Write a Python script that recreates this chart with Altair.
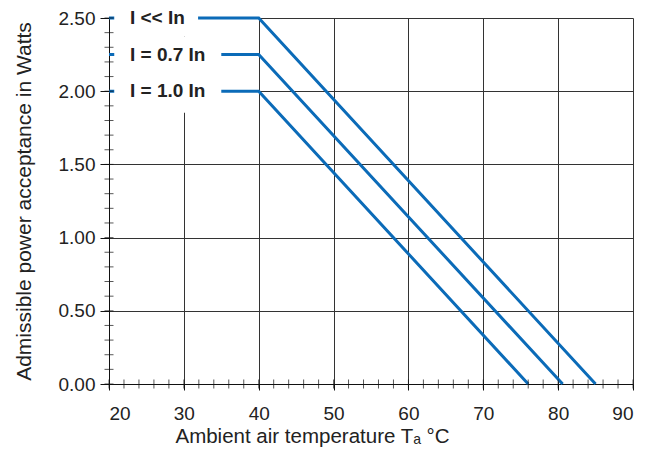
import altair as alt
import pandas as pd

# ---- data ----
series = ["I << In", "I = 0.7 In", "I = 1.0 In"]
plateau = [2.5, 2.25, 2.0]          # W, constant up to 40 °C
knee_t = [40, 40, 40]               # °C where derating begins
end_t = [85.0, 80.6, 76.0]          # °C where admissible power reaches 0
start_t = [20, 20, 20]
label_t = [22.8, 22.8, 22.8]        # label start (°C)
box_end_t = [31.9, 35.0, 35.0]      # white box behind label ends here
box_lo = [2.375, 2.125, 1.853]
box_hi = [2.56, 2.375, 2.125]
box_start_t = 20.7

x_major = [20, 30, 40, 50, 60, 70, 80, 90]
x_minor = list(range(20, 91, 2))
y_major = [0.0, 0.5, 1.0, 1.5, 2.0, 2.5]
y_minor = [round(i * 0.1, 1) for i in range(0, 26)]

blue = "#0b6bb8"
ink = "#222222"
font = "Liberation Sans"

rows = []
for s, p, k, e, st in zip(series, plateau, knee_t, end_t, start_t):
    rows += [
        {"series": s, "t": st, "p": p, "o": 0},
        {"series": s, "t": k, "p": p, "o": 1},
        {"series": s, "t": e, "p": 0.0, "o": 2},
    ]
lines_df = pd.DataFrame(rows)
boxes_df = pd.DataFrame({"series": series, "x1": [box_start_t] * 3, "x2": box_end_t,
                         "y1": box_lo, "y2": box_hi})
labels_df = pd.DataFrame({"series": series, "t": label_t, "p": plateau})
xminor_df = pd.DataFrame({"t": x_minor})
yminor_df = pd.DataFrame({"p": y_minor})

xscale = alt.Scale(domain=[20, 90], nice=False, zero=False)
yscale = alt.Scale(domain=[0, 2.5], nice=False)

xaxis = alt.Axis(values=x_major, grid=True, gridColor="#333333", gridWidth=1,
                 domainColor="#111111", tickColor="#111111", tickSize=6,
                 labelFontSize=19, labelFont=font, labelColor=ink, labelPadding=14,
                 title="Ambient air temperature Tₐ °C", titleFont=font,
                 titleFontSize=20.5, titleFontWeight="normal", titleColor=ink,
                 titlePadding=3, titleX=203)
yaxis = alt.Axis(values=y_major, format=".2f", grid=True, gridColor="#333333",
                 gridWidth=1, domainColor="#111111", tickColor="#111111",
                 tickSize=9, labelFontSize=19, labelFont=font, labelColor=ink,
                 labelPadding=5, title="Admissible power acceptance in Watts",
                 titleFont=font, titleFontSize=21, titleFontWeight="normal",
                 titleColor=ink, titlePadding=24)

lines = alt.Chart(lines_df).mark_line(strokeWidth=3).encode(
    x=alt.X("t:Q", scale=xscale, axis=xaxis),
    y=alt.Y("p:Q", scale=yscale, axis=yaxis),
    detail="series:N",
    order="o:Q",
    color=alt.value(blue),
)

boxes = alt.Chart(boxes_df).mark_rect(color="white").encode(
    x="x1:Q", x2="x2", y="y1:Q", y2="y2",
)

labels = alt.Chart(labels_df).mark_text(
    align="left", baseline="middle", font=font, fontSize=19, fontWeight="bold",
    color=ink,
).encode(x="t:Q", y="p:Q", text="series:N")

xticks = alt.Chart(xminor_df).mark_tick(orient="vertical", size=9, thickness=1,
                                         color="#111111").encode(
    x="t:Q", y=alt.datum(0.0),
)
yticks = alt.Chart(yminor_df).mark_tick(orient="horizontal", size=9, thickness=1,
                                         color="#111111").encode(
    y="p:Q", x=alt.datum(20),
)

chart = alt.layer(lines, boxes, labels, xticks, yticks).properties(
    width=524, height=366,
    autosize=alt.AutoSizeParams(type="none"),
    padding={"left": 101, "top": 10, "right": 12, "bottom": 65},
).configure_view(stroke=None)

chart.save("out.html", embed_options={"renderer": "svg", "actions": False})
